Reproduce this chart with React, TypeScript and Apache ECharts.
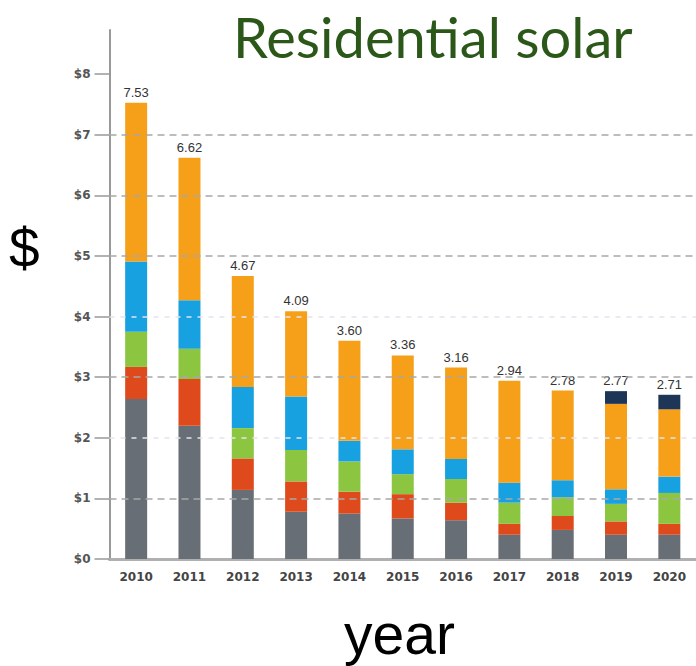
import React, { useEffect, useRef } from "react";
import * as echarts from "echarts";

const years = ["2010", "2011", "2012", "2013", "2014", "2015", "2016", "2017", "2018", "2019", "2020"];
const gray = [2.64, 2.2, 1.14, 0.78, 0.75, 0.67, 0.64, 0.4, 0.48, 0.4, 0.4];
const red = [0.53, 0.77, 0.52, 0.5, 0.36, 0.4, 0.29, 0.18, 0.23, 0.22, 0.18];
const green = [0.58, 0.5, 0.5, 0.52, 0.5, 0.33, 0.39, 0.35, 0.31, 0.29, 0.51];
const blue = [1.16, 0.8, 0.68, 0.88, 0.34, 0.41, 0.33, 0.33, 0.28, 0.24, 0.27];
const orange = [2.62, 2.35, 1.83, 1.41, 1.65, 1.55, 1.51, 1.68, 1.48, 1.41, 1.11];
const navy = [0, 0, 0, 0, 0, 0, 0, 0, 0, 0.21, 0.24];
const totals = ["7.53", "6.62", "4.67", "4.09", "3.60", "3.36", "3.16", "2.94", "2.78", "2.77", "2.71"];
const yTicks = [0, 1, 2, 3, 4, 5, 6, 7, 8];
const strongGrid = [1, 3, 5, 6, 7];
const faintGrid = [2, 4];

export default function App() {
  const ref = useRef<HTMLDivElement>(null);
  useEffect(() => {
    if (!ref.current) return;
    const chart = echarts.init(ref.current, undefined, { renderer: "svg" });
    const mk = (name: string, data: number[], color: string, extra: any = {}) => ({
      name,
      type: "bar",
      stack: "total",
      data,
      barWidth: 22,
      itemStyle: { color },
      ...extra,
    });
    chart.setOption({
      animation: false,
      backgroundColor: "#ffffff",
      grid: { left: 109.5, right: -3, top: 30, bottom: 107 },
      title: {
        text: "Residential solar",
        left: 228,
        top: 3,
        textStyle: { fontFamily: "Lato", fontSize: 56, fontWeight: "normal", color: "#2b5718" },
      },
      graphic: [
        {
          type: "text",
          left: 9,
          top: 220,
          style: { text: "$", fontFamily: "Liberation Sans", fontSize: 55, fill: "#000" },
        },
        {
          type: "text",
          left: 344,
          top: 605,
          style: { text: "year", fontFamily: "Liberation Sans", fontSize: 57, fill: "#000" },
        },
      ],
      xAxis: {
        type: "category",
        data: years,
        axisLine: { lineStyle: { color: "#b0b0b0", width: 3 } },
        axisTick: { show: false },
        axisLabel: { color: "#444", fontSize: 12, fontWeight: "bold", margin: 12, fontFamily: "DejaVu Sans" },
      },
      yAxis: {
        type: "value",
        min: 0,
        max: 8.73,
        interval: 1,
        axisLine: { show: true, lineStyle: { color: "#999", width: 2 } },
        axisTick: { show: true, length: 15, customValues: yTicks, lineStyle: { color: "#999", width: 1.5 } },
        axisLabel: {
          customValues: yTicks,
          formatter: (v: number) => "$" + v,
          color: "#555",
          fontSize: 12,
          fontWeight: "bold",
          margin: 19,
          fontFamily: "DejaVu Sans",
        },
        splitLine: { show: false },
      },
      series: [
        mk("gray", gray, "#686e76"),
        mk("red", red, "#df4a1c"),
        mk("green", green, "#8cc540"),
        mk("blue", blue, "#17a1e0"),
        mk("orange", orange, "#f6a01a"),
        mk("navy", navy, "#1d3658", {
          label: {
            show: true,
            position: "top",
            distance: 4,
            color: "#333",
            fontSize: 13,
            fontFamily: "Liberation Sans",
            formatter: (p: any) => totals[p.dataIndex],
          },
          markLine: {
            silent: true,
            symbol: ["none", "none"],
            label: { show: false },
            data: [
              ...strongGrid.map((v) => ({ yAxis: v, lineStyle: { color: "#a8a8a8", width: 1.5, type: [7, 5] } })),
              ...faintGrid.map((v) => ({ yAxis: v, lineStyle: { color: "#e6e2ee", width: 1.5, type: [5, 6] } })),
            ],
          },
        }),
      ],
    });
    return () => chart.dispose();
  }, []);
  return <div ref={ref} style={{ width: 696, height: 666, position: "absolute", left: 0, top: 0 }} />;
}
